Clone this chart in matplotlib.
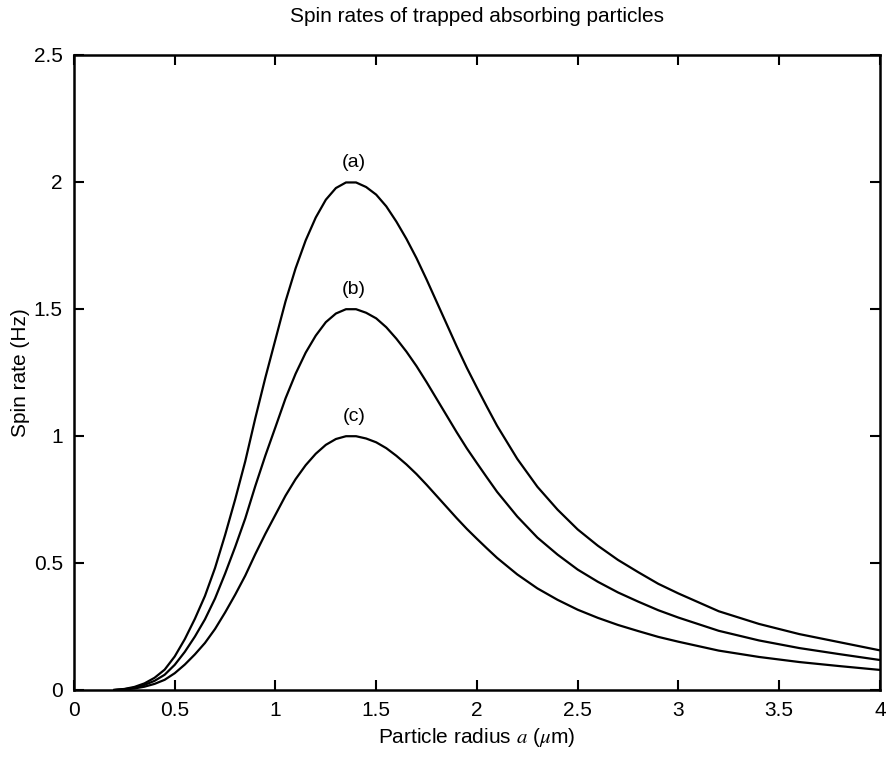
import matplotlib
matplotlib.use("Agg")
import matplotlib.pyplot as plt

plt.rcParams['font.family'] = ['Liberation Sans', 'DejaVu Sans']
plt.rcParams['mathtext.fontset'] = 'stix'

# particle radius (um) and spin rates (Hz)
radius = [0.2, 0.25, 0.3, 0.35, 0.4, 0.45, 0.5, 0.55, 0.6, 0.65, 0.7, 0.75, 0.8, 0.85,
          0.9, 0.95, 1.0, 1.05, 1.1, 1.15, 1.2, 1.25, 1.3, 1.35, 1.4, 1.45, 1.5, 1.55,
          1.6, 1.65, 1.7, 1.75, 1.8, 1.85, 1.9, 1.95, 2.0, 2.05, 2.1, 2.2, 2.3, 2.4,
          2.5, 2.6, 2.7, 2.8, 2.9, 3.0, 3.2, 3.4, 3.6, 3.8, 4.0]
spin_a = [0, 0.004, 0.012, 0.026, 0.048, 0.08, 0.132, 0.2, 0.28, 0.37, 0.48, 0.61, 0.75, 0.9,
          1.07, 1.23, 1.38, 1.53, 1.66, 1.77, 1.86, 1.93, 1.976, 1.998, 1.998, 1.98, 1.95, 1.904,
          1.844, 1.776, 1.7, 1.616, 1.528, 1.44, 1.352, 1.268, 1.19, 1.114, 1.04, 0.91, 0.8, 0.71,
          0.632, 0.568, 0.512, 0.464, 0.418, 0.38, 0.31, 0.26, 0.22, 0.188, 0.156]
spin_b = [0, 0.003, 0.009, 0.02, 0.036, 0.06, 0.099, 0.15, 0.21, 0.278, 0.36, 0.458, 0.563, 0.675,
          0.803, 0.923, 1.035, 1.148, 1.245, 1.328, 1.395, 1.448, 1.482, 1.499, 1.499, 1.485, 1.463, 1.428,
          1.383, 1.332, 1.275, 1.212, 1.146, 1.08, 1.014, 0.951, 0.893, 0.836, 0.78, 0.683, 0.6, 0.533,
          0.474, 0.426, 0.384, 0.348, 0.314, 0.285, 0.233, 0.195, 0.165, 0.141, 0.118]
spin_c = [0, 0.002, 0.006, 0.013, 0.024, 0.04, 0.066, 0.1, 0.14, 0.185, 0.24, 0.305, 0.375, 0.45,
          0.535, 0.615, 0.69, 0.765, 0.83, 0.885, 0.93, 0.965, 0.988, 0.999, 0.999, 0.99, 0.975, 0.952,
          0.922, 0.888, 0.85, 0.808, 0.764, 0.72, 0.676, 0.634, 0.595, 0.557, 0.52, 0.455, 0.4, 0.355,
          0.316, 0.284, 0.256, 0.232, 0.209, 0.19, 0.155, 0.13, 0.11, 0.094, 0.079]
labels = ['(a)', '(b)', '(c)']
peaks = [2.0, 1.5, 1.0]

fig = plt.figure(figsize=(8.87, 7.63), dpi=100)
ax = fig.add_axes([0.0834, 0.0957, 0.9086, 0.8323])

for ys in (spin_a, spin_b, spin_c):
    ax.plot(radius, ys, color='black', linewidth=1.6)

# curve labels just above each peak
for lab, p in zip(labels, peaks):
    ax.text(1.39, p + 0.075, lab, ha='center', va='center', fontsize=14)

ax.set_xlim(0, 4)
ax.set_ylim(0, 2.5)
ax.set_xticks([0, 0.5, 1, 1.5, 2, 2.5, 3, 3.5, 4])
ax.set_xticklabels(['0', '0.5', '1', '1.5', '2', '2.5', '3', '3.5', '4'])
ax.set_yticks([0, 0.5, 1, 1.5, 2, 2.5])
ax.set_yticklabels(['0', '0.5', '1', '1.5', '2', '2.5'])
ax.tick_params(direction='in', top=True, right=True, length=7, width=1.5,
               labelsize=15, pad=8)
for s in ax.spines.values():
    s.set_linewidth(1.8)

ax.set_title('Spin rates of trapped absorbing particles', fontsize=15, pad=24)
ax.set_xlabel('Particle radius $a$ ($\\mu$m)', fontsize=15, labelpad=4)
ax.set_ylabel('Spin rate (Hz)', fontsize=15, labelpad=3)

fig.savefig('out.png', dpi=100)
